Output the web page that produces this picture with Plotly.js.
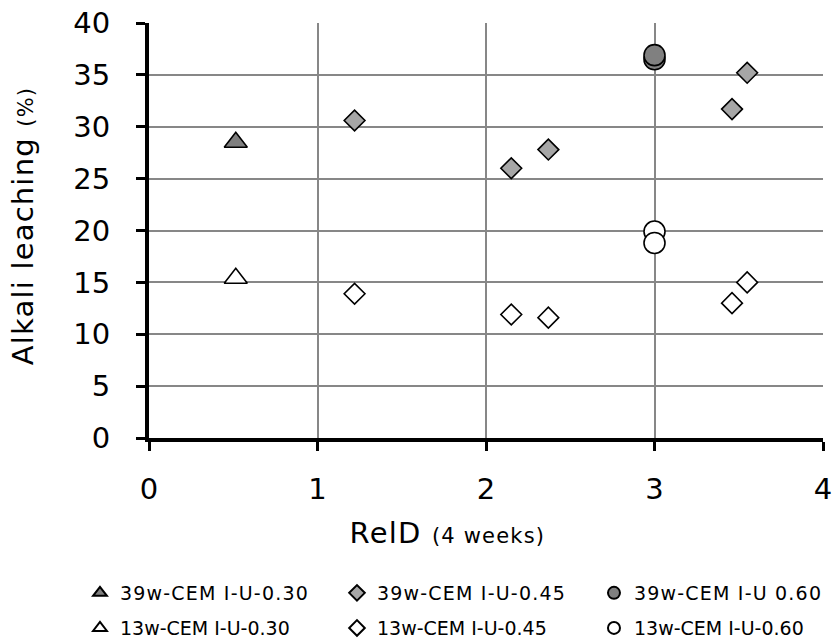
<!DOCTYPE html>
<html>
<head>
<meta charset="utf-8">
<script src="https://cdn.plot.ly/plotly-3.0.1.min.js"></script>
<style>
  html, body { margin: 0; padding: 0; background: #fff; }
  #chart { width: 833px; height: 644px; }
  /* slightly wider lettering for legend and title texts */
  #chart .legendtext { letter-spacing: 1.2px; }
  #chart .annotation-text { letter-spacing: 1.2px; }
</style>
</head>
<body>
<div id="chart"></div>
<script>
// RelD after 4 weeks for each mix
const relD030 = [0.515];
const relD045 = [1.22, 2.15, 2.37, 3.46, 3.55];
const relD060 = [3.0, 3.0];

// Alkali leaching (%) after 39 weeks
const leach39w030 = [28.5];
const leach39w045 = [30.6, 26.0, 27.8, 31.7, 35.2];
const leach39w060 = [36.5, 36.9];

// Alkali leaching (%) after 13 weeks
const leach13w030 = [15.4];
const leach13w045 = [13.9, 11.9, 11.6, 13.0, 15.0];
const leach13w060 = [19.9, 18.8];

const seriesNames = [
  '39w-CEM I-U-0.30', '39w-CEM I-U-0.45', '39w-CEM I-U 0.60',
  '13w-CEM I-U-0.30', '13w-CEM I-U-0.45', '13w-CEM I-U-0.60'
];

const xTicks = [0, 1, 2, 3, 4];
const yTicks = [0, 5, 10, 15, 20, 25, 30, 35, 40];

const FONT = 'DejaVu Sans, Lato, sans-serif';

function series(name, x, y, symbol, size, fill, legendId) {
  return {
    type: 'scatter', mode: 'markers', name: name, x: x, y: y,
    legend: legendId,
    marker: { symbol: symbol, size: size, color: fill,
              line: { color: '#000', width: 1.6 } },
    hoverinfo: 'x+y+name'
  };
}

const traces = [
  series(seriesNames[0], relD030, leach39w030, 'triangle-up', 20, '#7f7f7f', 'legend'),
  series(seriesNames[1], relD045, leach39w045, 'diamond', 16, '#a6a6a6', 'legend'),
  series(seriesNames[2], relD060, leach39w060, 'circle', 21, '#808080', 'legend'),
  series(seriesNames[3], relD030, leach13w030, 'triangle-up', 20, '#ffffff', 'legend2'),
  series(seriesNames[4], relD045, leach13w045, 'diamond', 16, '#ffffff', 'legend2'),
  series(seriesNames[5], relD060, leach13w060, 'circle', 21, '#ffffff', 'legend2')
];

const axisCommon = {
  showgrid: true, gridcolor: '#878787', gridwidth: 1.5,
  showline: true, linecolor: '#000', linewidth: 4,
  ticks: 'outside', ticklen: 9, tickwidth: 3, tickcolor: '#000',
  zeroline: false, tickfont: { size: 29, family: FONT, color: '#000' },
  fixedrange: true
};

const legendCommon = {
  orientation: 'h', x: -0.1024, xanchor: 'left', yanchor: 'middle',
  font: { size: 19, family: FONT, color: '#000' },
  entrywidth: 212, entrywidthmode: 'pixels', itemsizing: 'constant',
  bgcolor: 'rgba(0,0,0,0)', borderwidth: 0
};

const layout = {
  width: 833, height: 644,
  margin: { l: 149, r: 10, t: 23, b: 206, autoexpand: false },
  paper_bgcolor: '#fff', plot_bgcolor: '#fff',
  font: { family: FONT, color: '#000' },
  showlegend: true,
  xaxis: Object.assign({}, axisCommon, {
    range: [0, 4], tickvals: xTicks, ticktext: xTicks.map(String),
    ticklabelstandoff: 13
  }),
  yaxis: Object.assign({}, axisCommon, {
    range: [0, 40], tickvals: yTicks, ticktext: yTicks.map(String),
    ticklabelstandoff: 20
  }),
  legend: Object.assign({}, legendCommon, { y: -0.3735 }),
  legend2: Object.assign({}, legendCommon, { y: -0.458 }),
  annotations: [
    {
      // x-axis title
      xref: 'paper', yref: 'paper', x: 0.443, y: -0.229,
      xanchor: 'center', yanchor: 'middle', showarrow: false,
      text: 'RelD <span style="font-size:21px">(4 weeks)</span>',
      font: { size: 29, family: FONT, color: '#000' }
    },
    {
      // y-axis title
      xref: 'paper', yref: 'paper', x: -0.187, y: 0.511,
      xanchor: 'center', yanchor: 'middle', showarrow: false, textangle: -90,
      text: 'Alkali leaching <span style="font-size:21px">(%)</span>',
      font: { size: 29, family: FONT, color: '#000' }
    }
  ]
};

Plotly.newPlot('chart', traces, layout, { displayModeBar: false, responsive: false });
</script>
</body>
</html>
